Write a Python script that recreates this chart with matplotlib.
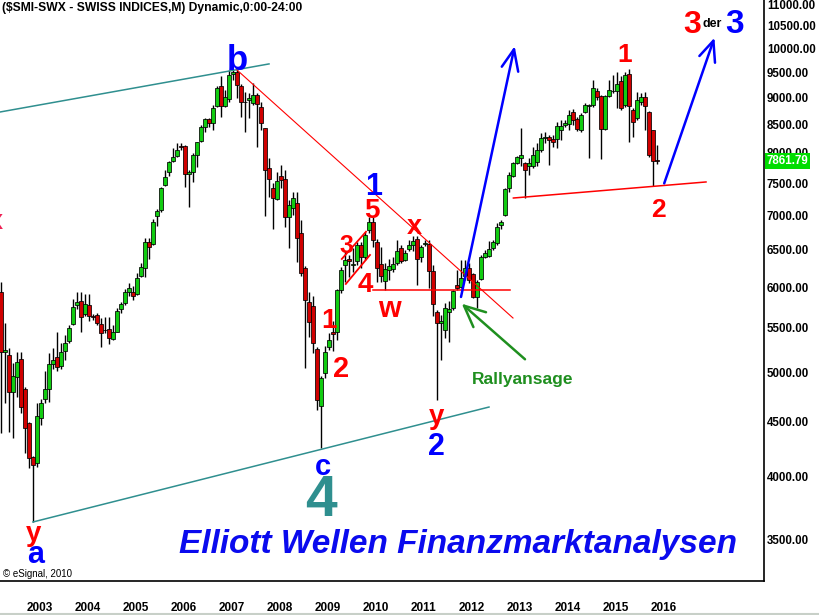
import numpy as np
import matplotlib
matplotlib.use('Agg')
import matplotlib.pyplot as plt
from matplotlib.ticker import NullLocator, FixedLocator
from matplotlib.transforms import blended_transform_factory
from matplotlib.lines import Line2D

plt.rcParams['font.family'] = ['Liberation Sans', 'DejaVu Sans']

# monthly SMI candles, first one is Jul 2002 (months counted from Jan 2003)
first_month = -6
opens = [5935, 5220, 5190, 4800, 4950, 5143, 4830, 4484, 4169, 4116, 4540, 4720,
         4823, 5091, 5170, 5070, 5238, 5352, 5542, 5777, 5826, 5663, 5777, 5640,
         5654, 5543, 5470, 5485, 5372, 5456, 5728, 5800, 5936, 5940, 5915, 6150,
         6250, 6610, 6580, 6990, 7080, 7470, 7680, 7865, 7945, 8120, 8120, 7650,
         7680, 7965, 8210, 8455, 8603, 8530, 8846, 9234, 8846, 8980, 9474, 9515,
         9234, 8922, 8960, 8902, 9057, 8827, 8440, 7746, 7420, 7250, 7615, 7566,
         6975, 7108, 7187, 6740, 6254, 5815, 5765, 5260, 4653, 4994, 5280, 5452,
         5452, 5966, 6293, 6375, 6300, 6347, 6569, 6400, 6783, 6900, 6612, 6307,
         6083, 6227, 6240, 6320, 6527, 6361, 6513, 6569, 6660, 6400, 6583, 6583,
         6214, 5690, 5560, 5476, 5690, 5740, 6030, 6010, 6147, 6254, 6174, 5877,
         6110, 6400, 6416, 6527, 6597, 6856, 7005, 7420, 7615, 7830, 7915, 7830,
         7780, 7780, 7850, 8051, 8260, 8280, 8240, 8240, 8400, 8493, 8510, 8733,
         8603, 8403, 8733, 8846, 8865, 9135, 9038, 8420, 9038, 9135, 9135, 9333,
         8865, 9474, 8771, 8622, 8920, 9018, 8733, 8403, 7880]
highs = [6064, 5554, 5265, 5100, 5220, 5220, 4850, 4500, 4180, 4680, 4720, 5015,
         5208, 5265, 5456, 5322, 5417, 5534, 5848, 5936, 5936, 5915, 5915, 5670,
         5675, 5615, 5626, 5635, 5534, 5735, 5816, 5974, 6055, 6015, 6180, 6320,
         6670, 6670, 6950, 7095, 7440, 7713, 7865, 8085, 8170, 8170, 8137, 7713,
         8000, 8190, 8493, 8622, 8622, 8865, 9234, 9433, 9155, 9555, 9576, 9576,
         9273, 9117, 9097, 9293, 9097, 8922, 8440, 7913, 7500, 7680, 7796, 7713,
         7233, 7358, 7358, 6930, 6280, 5940, 5890, 5282, 4960, 5292, 5440, 5580,
         5980, 6266, 6485, 6430, 6527, 6611, 6611, 6760, 6975, 6975, 6654, 6540,
         6320, 6375, 6404, 6640, 6569, 6499, 6640, 6700, 6700, 6569, 6640, 6640,
         6293, 5716, 5650, 5800, 5830, 5966, 6227, 6361, 6361, 6320, 6187, 6095,
         6430, 6499, 6626, 6640, 6885, 6930, 7420, 7680, 7850, 7948, 8440, 7850,
         7915, 8100, 8170, 8350, 8370, 8313, 8313, 8550, 8585, 8585, 8771, 8790,
         8640, 8714, 8902, 8880, 9353, 9195, 9057, 9057, 9353, 9453, 9515, 9433,
         9515, 9576, 8808, 9117, 9097, 9117, 8752, 8403, 8137]
lows = [4390, 4686, 4405, 4342, 4746, 4586, 4205, 4072, 3632, 4081, 4467, 4686,
        4696, 5040, 5015, 5040, 5135, 5330, 5534, 5725, 5456, 5645, 5585, 5594,
        5534, 5280, 5445, 5315, 5360, 5450, 5675, 5777, 5890, 5839, 5902, 6135,
        6135, 6375, 6570, 6840, 7050, 7450, 7615, 7850, 7930, 8050, 7440, 7130,
        7517, 7760, 8190, 8366, 8455, 8403, 8827, 8640, 8827, 8920, 9353, 8998,
        8640, 8366, 8622, 8865, 8102, 8403, 6990, 7280, 6800, 7233, 7420, 6828,
        6525, 7005, 6333, 6150, 5050, 5394, 5212, 4613, 4252, 4941, 5246, 5235,
        5360, 5928, 6070, 6135, 6200, 6293, 6250, 6360, 6740, 6540, 6070, 6070,
        5966, 6095, 6200, 6293, 6320, 6347, 6485, 6485, 6030, 6333, 6555, 5995,
        5640, 4713, 5135, 5380, 5340, 5715, 5966, 5990, 6095, 6055, 5865, 5740,
        6095, 6390, 6400, 6499, 6569, 6800, 6990, 7358, 7600, 7815, 7780, 7265,
        7630, 7745, 7780, 8018, 8170, 7796, 8100, 8085, 8225, 8455, 8403, 8493,
        8385, 8366, 8714, 7915, 8827, 8960, 7896, 8403, 9018, 9097, 8808, 8771,
        8827, 8190, 8280, 8585, 8865, 8403, 7930, 7452, 7813]
closes = [5220, 5245, 4800, 4960, 5117, 4645, 4436, 4160, 4101, 4555, 4680, 4823,
          5091, 5135, 5062, 5220, 5322, 5496, 5749, 5810, 5635, 5786, 5645, 5630,
          5560, 5437, 5480, 5380, 5456, 5704, 5790, 5936, 5990, 5890, 6125, 6265,
          6610, 6540, 6900, 7065, 7420, 7600, 7850, 7930, 8050, 8100, 7650, 7680,
          7965, 8190, 8455, 8603, 8530, 8808, 9195, 8846, 9018, 9453, 9515, 9253,
          8922, 8930, 8998, 9057, 8883, 8530, 7713, 7566, 7265, 7533, 7550, 6975,
          7156, 7265, 6668, 6187, 5839, 5570, 5325, 4713, 4941, 5224, 5360, 5430,
          5966, 6227, 6361, 6347, 6310, 6569, 6400, 6711, 6900, 6640, 6254, 6147,
          6240, 6280, 6307, 6485, 6347, 6457, 6569, 6620, 6375, 6541, 6597, 6214,
          5790, 5555, 5580, 5740, 5730, 5950, 5990, 6120, 6254, 6095, 5877, 6070,
          6400, 6457, 6513, 6611, 6826, 6900, 7406, 7630, 7830, 7930, 7965, 7713,
          7830, 7965, 8051, 8260, 8280, 8225, 8190, 8475, 8475, 8530, 8677, 8585,
          8420, 8677, 8865, 8865, 9195, 9018, 8420, 9038, 9155, 9140, 9273, 8808,
          9453, 8846, 8548, 8960, 9018, 8846, 7965, 7862, 7861.79]

years = list(range(2003, 2017))
price_ticks = [3500, 4000, 4500, 5000, 5500, 6000, 6500, 7000, 7500, 8000,
               8500, 9000, 9500, 10000, 10500, 11000]
last_price = 7861.79

# drawn lines as (months, prices)
upper_channel = ([-6.25, 61], [8733, 9680])
lower_channel = ([2, 116], [3630, 4643])
down_trend = ([53, 122], [9555, 5618])
w_line = ([87, 121.25], [5966, 5966])
wedge_top = ([79.2, 85.25], [6375, 6758])
wedge_bottom = ([80.2, 86.25], [6043, 6430])
support_line = ([122.1, 170.25], [7264, 7518])
arrow_a = ([109, 122.25], [5877, 9988])
arrow_a_head = ([119.2, 122.25, 123.3], [9623, 9988, 9520])
arrow_b = ([159.8, 172.1], [7495, 10173])
arrow_b_head = ([168.6, 172.1, 172.5], [9846, 10173, 9705])
green_arrow = ([125, 109.75], [5143, 5768])
green_arrow_head = ([115.25, 109.75, 112.1], [5688, 5768, 5510])

o = np.array(opens, float)
h = np.array(highs, float)
l = np.array(lows, float)
c = np.array(closes, float)
x = first_month + np.arange(len(o))

fig = plt.figure(figsize=(8.2, 6.15), dpi=100)
ax = fig.add_axes([0, 34 / 615, 764 / 820, 581 / 615])
ax.set_yscale('log')
ax.set_xlim(-6.25, 184.75)
ax.set_ylim(3199, 11100)

# candles
cols = np.where(c >= o, '#11cc11', '#d00000')
ax.vlines(x, l, h, color='black', linewidth=1.0, zorder=2)
ax.bar(x, np.abs(c - o), bottom=np.minimum(o, c), width=0.85, color=cols,
       edgecolor='black', linewidth=0.55, zorder=3)

teal = '#2f8f8f'
ax.plot(*upper_channel, color=teal, lw=1.1, zorder=4)
ax.plot(*lower_channel, color=teal, lw=1.1, zorder=4)
ax.plot(*down_trend, color='red', lw=0.8, zorder=4)
ax.plot(*w_line, color='red', lw=1.1, zorder=4)
ax.plot(*wedge_top, color='red', lw=1.3, zorder=4)
ax.plot(*wedge_bottom, color='red', lw=1.3, zorder=4)
ax.plot(*support_line, color='red', lw=1.1, zorder=4)
for line in (arrow_a, arrow_a_head, arrow_b, arrow_b_head):
    ax.plot(*line, color='#0000ff', lw=1.8, zorder=5, solid_capstyle='round')
for line in (green_arrow, green_arrow_head):
    ax.plot(*line, color='#1f8f1f', lw=1.8, zorder=5, solid_capstyle='round')

# wave labels
red, blue = '#ff0000', '#0000ff'
lab = dict(ha='center', va='baseline', fontweight='bold', zorder=6)
ax.text(53, 9555, 'b', color=blue, fontsize=25, **lab)
ax.text(87.25, 7311, '1', color=blue, fontsize=22, **lab)
ax.text(86.75, 6960, '5', color=red, fontsize=20, **lab)
ax.text(80.25, 6457, '3', color=red, fontsize=18, **lab)
ax.text(85, 5940, '4', color=red, fontsize=20, **lab)
ax.text(97.25, 6725, 'x', color=red, fontsize=19.5, **lab)
ax.text(91.1, 5630, 'w', color=red, fontsize=21, **lab)
ax.text(76, 5500, '1', color=red, fontsize=20, **lab)
ax.text(79.1, 4950, '2', color=red, fontsize=21, **lab)
ax.text(102.9, 4480, 'y', color=red, fontsize=20, **lab)
ax.text(102.75, 4190, '2', color=blue, fontsize=22, **lab)
ax.text(74.5, 4014, 'c', color=blue, fontsize=21, **lab)
ax.text(73.9, 3676, '4', color=teal, fontsize=41, **lab)
ax.text(2.1, 3485, 'y', color=red, fontsize=20, **lab)
ax.text(2.6, 3323, 'a', color=blue, fontsize=22, **lab)
ax.text(-7.4, 6800, 'x', color='#ee2255', fontsize=19.5, **lab)
ax.text(150, 9720, '1', color=red, fontsize=19, **lab)
ax.text(158.4, 6975, '2', color=red, fontsize=19, **lab)
ax.text(166.75, 10343, '3', color=red, fontsize=23, **lab)
ax.text(171.9, 10470, 'der', color='black', fontsize=9, **lab)
ax.text(177.5, 10343, '3', color=blue, fontsize=24, **lab)
ax.text(111.75, 4875, 'Rallyansage', color='#1f8f1f', fontsize=12.5,
        ha='left', va='baseline', fontweight='bold', zorder=6)
ax.text(108.25, 3397, 'Elliott Wellen Finanzmarktanalysen', color='#0a0aee',
        fontsize=24, ha='center', va='baseline', fontweight='bold',
        fontstyle='italic', zorder=6)
ax.text(-5.5, 3227, '\u00a9 eSignal, 2010', fontsize=7, ha='left',
        va='baseline', zorder=6)

fig.text(2 / 820, 1 - 8 / 615, '(\\$SMI-SWX - SWISS INDICES,M) Dynamic,0:00-24:00',
         fontsize=8.7, fontweight='bold', ha='left', va='center')

# axes styling
for s in ('left', 'top'):
    ax.spines[s].set_visible(False)
ax.spines['right'].set_linewidth(1.2)
ax.spines['bottom'].set_linewidth(1.2)
ax.yaxis.tick_right()
ax.yaxis.set_major_locator(FixedLocator(price_ticks))
ax.yaxis.set_minor_locator(NullLocator())
ax.set_yticklabels([f'{v:.2f}' for v in price_ticks])
ax.tick_params(axis='y', length=0, pad=2, labelsize=8.3)
for t in ax.get_yticklabels():
    t.set_fontweight('bold')
ax.set_xticks([12 * (yr - 2003) + 3.6 for yr in years])
ax.set_xticklabels([str(yr) for yr in years])
ax.tick_params(axis='x', length=0, pad=15, labelsize=8.5)
for t in ax.get_xticklabels():
    t.set_family(['Liberation Sans Narrow', 'Liberation Sans'])
    t.set_fontweight('bold')

tr = blended_transform_factory(ax.transAxes, ax.transData)
ax.text(1.003, last_price, f'{last_price:.2f}', transform=tr, color='white',
        fontsize=8.3, fontweight='bold', ha='left', va='center', zorder=7,
        bbox=dict(boxstyle='square,pad=0.15', fc='#00dd00', ec='none'),
        clip_on=False)

fig.add_artist(Line2D([0, 1], [1.5 / 615, 1.5 / 615], color='#c8d0c8', lw=1.5))

fig.savefig('out.png', dpi=100)
